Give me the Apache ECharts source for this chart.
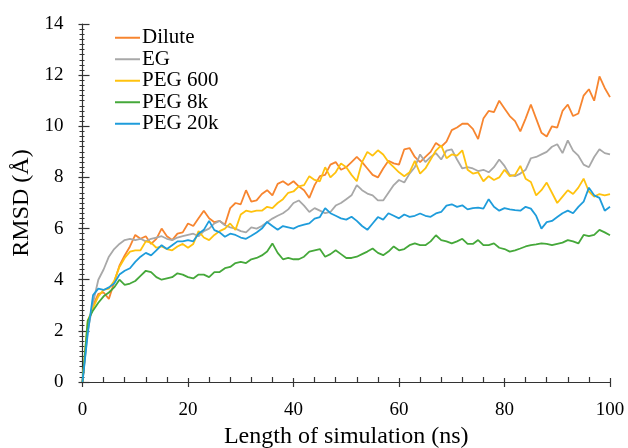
<!DOCTYPE html>
<html>
<head>
<meta charset="utf-8">
<script src="https://cdn.jsdelivr.net/npm/echarts@6/dist/echarts.min.js"></script>
<style>
html,body{margin:0;padding:0;background:#fff;}
#chart{width:628px;height:448px;}
</style>
</head>
<body>
<div id="chart"></div>
<script>
// time sampling grid (ns): 0..100 step 1
var timeNs = [];
for (var i = 0; i <= 100; i++) timeNs.push(i);

var seriesNames = ['Dilute', 'EG', 'PEG 600', 'PEG 8k', 'PEG 20k'];
var seriesColors = ['#F7852F', '#A8A8A8', '#FFC20E', '#45A83A', '#1E9CDB'];

var dilute = [0,2.2,3.0,3.45,3.5,3.25,3.9,4.55,4.95,5.3,5.75,5.6,5.7,5.4,5.6,6.0,5.7,5.55,5.8,5.85,
6.2,6.1,6.4,6.7,6.4,6.25,6.3,6.15,6.8,7.0,6.95,7.5,7.05,7.1,7.35,7.5,7.3,7.75,7.85,7.7,
7.85,7.65,7.5,7.2,7.7,8.05,8.1,8.5,8.6,8.3,8.4,8.6,8.8,8.6,8.35,8.1,8.0,8.35,8.65,8.55,
8.5,9.1,9.15,8.8,8.6,8.8,9.0,9.35,9.2,9.4,9.85,9.95,10.1,10.1,9.9,9.5,10.3,10.6,10.55,11.0,
10.7,10.4,10.2,9.8,10.3,10.85,10.3,9.75,9.6,10.0,9.95,10.6,10.85,10.4,10.5,11.2,11.45,11.0,11.95,11.5,
11.14];

var eg = [0,2.0,3.1,4.0,4.4,4.9,5.2,5.4,5.55,5.6,5.55,5.6,5.5,5.6,5.65,5.7,5.6,5.55,5.65,5.7,
5.75,5.8,5.7,5.9,6.0,6.2,6.3,6.13,6.05,6.0,5.9,5.85,6.05,6.0,6.1,6.25,6.39,6.5,6.6,6.75,
7.0,7.1,6.9,6.65,6.8,6.7,6.6,6.65,6.9,7.0,7.15,7.3,7.7,7.5,7.37,7.3,7.1,7.1,7.4,7.7,
7.9,7.8,8.15,8.4,8.9,8.6,8.8,8.95,8.7,9.05,9.1,8.7,8.35,8.4,8.35,8.25,8.3,8.2,8.4,8.7,
8.45,8.1,8.05,8.15,8.3,8.75,8.8,8.9,9.0,9.2,9.3,8.95,9.45,9.05,8.85,8.5,8.4,8.8,9.1,8.95,
8.9];

var peg600 = [0,2.4,2.9,3.35,3.6,3.65,3.95,4.5,4.85,5.1,5.15,5.15,5.5,5.45,5.25,5.3,5.2,5.15,5.3,5.4,
5.25,5.4,5.9,5.65,5.55,5.75,5.9,6.0,6.2,5.95,6.55,6.7,6.65,6.7,6.7,6.85,6.8,7.0,7.15,7.4,
7.45,7.65,7.7,8.05,7.9,7.85,8.4,8.0,8.2,8.55,8.4,8.1,7.85,8.6,9.0,8.85,9.06,8.9,8.6,8.4,
8.2,8.05,8.2,8.65,8.15,8.35,8.7,9.05,9.25,8.75,8.9,8.85,9.06,8.3,8.15,8.2,7.85,8.05,7.9,8.0,
8.3,8.05,8.1,8.45,7.95,7.82,7.3,7.5,7.8,7.4,7.0,7.25,7.5,7.35,7.6,7.95,7.45,7.25,7.35,7.3,
7.35];

var peg8k = [0,2.4,2.8,3.1,3.35,3.5,3.7,4.0,3.8,3.85,3.95,4.15,4.35,4.3,4.1,4.0,4.05,4.1,4.25,4.2,
4.1,4.05,4.2,4.2,4.1,4.3,4.3,4.45,4.5,4.65,4.7,4.65,4.8,4.85,4.95,5.1,5.42,5.05,4.8,4.85,
4.8,4.8,4.9,5.1,5.15,5.2,4.9,5.0,5.15,5.0,4.85,4.85,4.9,5.0,5.1,5.22,5.05,4.96,5.1,5.3,
5.15,5.2,5.35,5.42,5.35,5.35,5.5,5.74,5.55,5.5,5.42,5.5,5.6,5.4,5.4,5.55,5.35,5.35,5.42,5.25,
5.2,5.1,5.15,5.22,5.3,5.35,5.38,5.42,5.4,5.35,5.4,5.45,5.55,5.5,5.42,5.75,5.7,5.75,5.95,5.85,
5.74];

var peg20k = [0,1.9,3.4,3.65,3.6,3.7,3.85,4.2,4.35,4.45,4.7,4.9,5.05,4.95,5.15,5.35,5.2,5.35,5.5,5.5,
5.55,5.5,5.8,5.95,6.3,5.94,5.85,5.68,5.8,5.75,5.65,5.6,5.72,5.85,6.0,6.26,6.1,5.95,6.1,6.05,
6.0,6.1,6.15,6.2,6.39,6.45,6.8,6.6,6.5,6.4,6.35,6.46,6.3,6.1,5.95,6.2,6.45,6.35,6.6,6.5,
6.4,6.55,6.46,6.5,6.59,6.5,6.46,6.59,6.65,6.9,6.95,6.85,6.91,6.75,6.8,6.82,6.78,7.15,6.85,6.7,
6.8,6.75,6.72,6.7,6.85,6.78,6.5,6.0,6.25,6.3,6.45,6.6,6.7,6.6,6.85,7.05,7.6,7.3,7.2,6.7,
6.85];

var yTicks = [0, 2, 4, 6, 8, 10, 12, 14];
var xTicks = [0, 20, 40, 60, 80, 100];

var allValues = [dilute, eg, peg600, peg8k, peg20k];

function pairs(vals) {
  var out = [];
  for (var k = 0; k < vals.length; k++) out.push([timeNs[k], vals[k]]);
  return out;
}

var FONT = 'Liberation Serif';
var AXC = '#333333';

var chart = echarts.init(document.getElementById('chart'), null, {renderer: 'canvas'});

var series = seriesNames.map(function (n, idx) {
  return {
    name: n,
    type: 'line',
    xAxisIndex: 0,
    yAxisIndex: 0,
    data: pairs(allValues[idx]),
    showSymbol: false,
    symbol: 'none',
    lineStyle: {width: 1.8, color: seriesColors[idx]},
    itemStyle: {color: seriesColors[idx]},
    animation: false
  };
});

var option = {
  animation: false,
  backgroundColor: '#ffffff',
  grid: {left: 82.5, right: 18, top: 24, bottom: 66, containLabel: false, outerBoundsMode: 'none'},
  legend: {
    orient: 'vertical',
    left: 115,
    top: 27,
    padding: 0,
    itemGap: 0,
    itemWidth: 25,
    itemHeight: 2,
    icon: 'rect',
    textStyle: {fontFamily: FONT, fontSize: 21, color: '#000', lineHeight: 21.5, padding: [0, 0, 0, -3]},
    data: seriesNames
  },
  xAxis: [
    {
      type: 'value', min: xTicks[0], max: xTicks[xTicks.length - 1], interval: 20,
      position: 'bottom',
      name: 'Length of simulation (ns)', nameLocation: 'middle', nameGap: 42,
      nameTextStyle: {fontFamily: FONT, fontSize: 24, color: '#000'},
      axisLine: {show: true, lineStyle: {color: AXC, width: 1.2}},
      axisTick: {show: true, inside: true, length: 4, lineStyle: {color: AXC, width: 1.2}},
      minorTick: {show: true, splitNumber: 5, length: 5, lineStyle: {color: AXC, width: 1.2}},
      axisLabel: {fontFamily: FONT, fontSize: 19, color: '#000', margin: 19},
      splitLine: {show: false}
    },
    {
      type: 'value', min: xTicks[0], max: xTicks[xTicks.length - 1], interval: 20,
      position: 'bottom', gridIndex: 0,
      axisLine: {show: false},
      axisTick: {show: true, inside: false, length: 5, lineStyle: {color: AXC, width: 1.2}},
      axisLabel: {show: false},
      splitLine: {show: false}
    }
  ],
  yAxis: [
    {
      type: 'value', min: yTicks[0], max: yTicks[yTicks.length - 1], interval: 2,
      position: 'left',
      name: 'RMSD (Å)', nameLocation: 'middle', nameGap: 41,
      nameTextStyle: {fontFamily: FONT, fontSize: 24, color: '#000'},
      axisLine: {show: true, lineStyle: {color: AXC, width: 1.2}},
      axisTick: {show: true, inside: true, length: 7, lineStyle: {color: AXC, width: 1.2}},
      minorTick: {show: true, splitNumber: 10, length: 2, lineStyle: {color: AXC, width: 1}},
      axisLabel: {fontFamily: FONT, fontSize: 19, color: '#000', margin: 19},
      splitLine: {show: false}
    },
    {
      type: 'value', min: yTicks[0], max: yTicks[yTicks.length - 1], interval: 2,
      position: 'left',
      axisLine: {show: false},
      axisTick: {show: true, inside: false, length: 4, lineStyle: {color: AXC, width: 1.2}},
      minorTick: {show: true, splitNumber: 10, length: 3, lineStyle: {color: AXC, width: 1}},
      axisLabel: {show: false},
      splitLine: {show: false}
    }
  ],
  series: series
};

chart.setOption(option);
</script>
</body>
</html>
